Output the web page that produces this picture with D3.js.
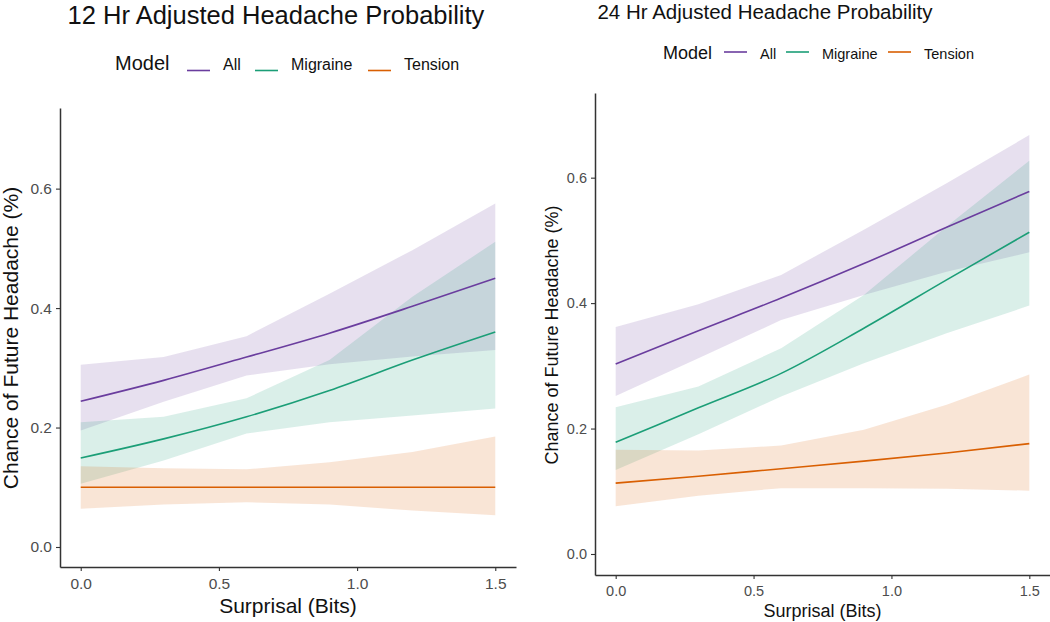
<!DOCTYPE html>
<html>
<head>
<meta charset="utf-8">
<script src="https://d3js.org/d3.v7.min.js"></script>
<style>
  body { margin: 0; background: #fff; }
  svg { display: block; font-family: "Liberation Sans", Arial, Helvetica, sans-serif; }
</style>
</head>
<body>
<svg width="1050" height="622"></svg>
<script>
// surprisal grid the models were evaluated on
var surprisal = [0, 0.3, 0.6, 0.9, 1.2, 1.5];
var models = ["All", "Migraine", "Tension"];
var xTicks = [0, 0.5, 1.0, 1.5];
var yTicks = [0, 0.2, 0.4, 0.6];

// 12 hour model: fitted value + confidence band
var all12      = [0.244, 0.279, 0.318, 0.358, 0.403, 0.450];
var all12Lo    = [0.195, 0.243, 0.287, 0.306, 0.319, 0.330];
var all12Hi    = [0.305, 0.318, 0.353, 0.424, 0.497, 0.575];
var mig12      = [0.149, 0.181, 0.218, 0.262, 0.313, 0.360];
var mig12Lo    = [0.106, 0.145, 0.190, 0.209, 0.220, 0.232];
var mig12Hi    = [0.209, 0.218, 0.249, 0.313, 0.419, 0.511];
var ten12      = [0.100, 0.100, 0.100, 0.100, 0.100, 0.100];
var ten12Lo    = [0.064, 0.071, 0.075, 0.071, 0.061, 0.053];
var ten12Hi    = [0.135, 0.132, 0.130, 0.142, 0.159, 0.185];

// 24 hour model
var all24      = [0.303, 0.356, 0.408, 0.463, 0.521, 0.578];
var all24Lo    = [0.252, 0.312, 0.373, 0.413, 0.450, 0.481];
var all24Hi    = [0.362, 0.398, 0.445, 0.517, 0.591, 0.668];
var mig24      = [0.178, 0.233, 0.288, 0.360, 0.437, 0.513];
var mig24Lo    = [0.134, 0.191, 0.251, 0.304, 0.352, 0.396];
var mig24Hi    = [0.234, 0.267, 0.328, 0.413, 0.522, 0.627];
var ten24      = [0.113, 0.124, 0.136, 0.148, 0.161, 0.176];
var ten24Lo    = [0.076, 0.093, 0.105, 0.105, 0.104, 0.101];
var ten24Hi    = [0.166, 0.165, 0.173, 0.198, 0.238, 0.286];

var colors = d3.scaleOrdinal().domain(models).range(["#6a3d9e", "#1b9e77", "#d95f02"]);

var svg = d3.select("svg");

function makeSeries(fit, lo, hi) {
  return surprisal.map(function(s, i) { return {x: s, y: fit[i], lo: lo[i], hi: hi[i]}; });
}

var panels = [
  {
    title: "12 Hr Adjusted Headache Probability",
    series: [makeSeries(all12, all12Lo, all12Hi), makeSeries(mig12, mig12Lo, mig12Hi), makeSeries(ten12, ten12Lo, ten12Hi)],
    box: {l: 60, r: 516, t: 108, b: 567},
    titleX: 276, titleY: 24, titleSize: 25.5,
    legend: {x: 115, y: 70, lineY: 70.5, size: 20, itemSize: 16, keys: [187, 255, 368]},
    tickSize: 15.5, tickLabelY: 589,
    xTitleY: 613, axisTitleSize: 21, yTitleX: 18, yTitleY: 338
  },
  {
    title: "24 Hr Adjusted Headache Probability",
    series: [makeSeries(all24, all24Lo, all24Hi), makeSeries(mig24, mig24Lo, mig24Hi), makeSeries(ten24, ten24Lo, ten24Hi)],
    box: {l: 595, r: 1050, t: 93, b: 575},
    titleX: 765, titleY: 19, titleSize: 20.5,
    legend: {x: 663, y: 59, lineY: 52, size: 18, itemSize: 14.5, keys: [724, 786, 888]},
    tickSize: 14.5, tickLabelY: 596,
    xTitleY: 617, axisTitleSize: 18, yTitleX: 558, yTitleY: 335
  }
];

panels.forEach(function(p) {
  var g = svg.append("g");
  var x = d3.scaleLinear().domain([-0.075, 1.575]).range([p.box.l, p.box.r]);
  var y = d3.scaleLinear().domain([-0.0335, 0.735]).range([p.box.b, p.box.t]);

  var area = d3.area()
    .x(function(d) { return x(d.x); })
    .y0(function(d) { return y(d.lo); })
    .y1(function(d) { return y(d.hi); });
  var line = d3.line()
    .x(function(d) { return x(d.x); })
    .y(function(d) { return y(d.y); })
    .curve(d3.curveMonotoneX);

  p.series.forEach(function(s, i) {
    g.append("path").attr("d", area(s))
      .attr("fill", colors(models[i])).attr("fill-opacity", 0.16);
  });
  p.series.forEach(function(s, i) {
    g.append("path").attr("d", line(s))
      .attr("fill", "none").attr("stroke", colors(models[i])).attr("stroke-width", 1.6);
  });

  // axes
  var xAxis = g.append("g").attr("transform", "translate(0," + p.box.b + ")")
    .call(d3.axisBottom(x).tickValues(xTicks).tickFormat(d3.format(".1f")).tickSize(4).tickSizeOuter(0));
  var yAxis = g.append("g").attr("transform", "translate(" + p.box.l + ",0)")
    .call(d3.axisLeft(y).tickValues(yTicks).tickFormat(d3.format(".1f")).tickSize(4).tickSizeOuter(0));
  [xAxis, yAxis].forEach(function(a) {
    a.attr("font-size", p.tickSize).attr("font-family", "Liberation Sans, Arial, sans-serif");
    a.select(".domain").attr("stroke", "#333").attr("stroke-width", 1.5);
    a.selectAll(".tick line").attr("stroke", "#333").attr("stroke-width", 1.1);
    a.selectAll(".tick text").attr("fill", "#4d4d4d").style("font-size", p.tickSize + "px");
  });
  xAxis.selectAll(".tick text").attr("dy", null)
    .attr("y", p.tickLabelY - p.box.b);
  yAxis.selectAll(".tick text").attr("x", -8);

  // titles
  g.append("text").attr("x", p.titleX).attr("y", p.titleY).attr("text-anchor", "middle")
    .attr("font-size", p.titleSize).attr("fill", "#111").text(p.title);
  g.append("text").attr("x", (x(0) + x(1.5)) / 2).attr("y", p.xTitleY).attr("text-anchor", "middle")
    .attr("font-size", p.axisTitleSize).attr("fill", "#111").text("Surprisal (Bits)");
  g.append("text").attr("transform", "translate(" + p.yTitleX + "," + p.yTitleY + ") rotate(-90)")
    .attr("text-anchor", "middle").attr("font-size", p.axisTitleSize).attr("fill", "#111")
    .text("Chance of Future Headache (%)");

  // legend
  var lg = g.append("g");
  lg.append("text").attr("x", p.legend.x).attr("y", p.legend.y)
    .attr("font-size", p.legend.size).attr("fill", "#111").text("Model");
  models.forEach(function(m, i) {
    var kx = p.legend.keys[i];
    lg.append("line").attr("x1", kx).attr("x2", kx + 23)
      .attr("y1", p.legend.lineY).attr("y2", p.legend.lineY)
      .attr("stroke", colors(m)).attr("stroke-width", 1.6);
    lg.append("text").attr("x", kx + 36).attr("y", p.legend.y)
      .attr("font-size", p.legend.itemSize).attr("fill", "#111").text(m);
  });
});
</script>
</body>
</html>
